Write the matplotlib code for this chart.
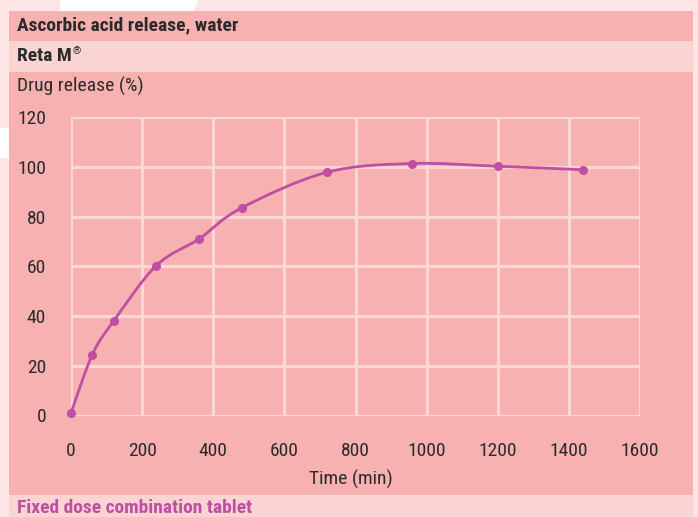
import matplotlib
matplotlib.use("Agg")
import matplotlib.pyplot as plt
from matplotlib import font_manager
from matplotlib.path import Path
from matplotlib.patches import PathPatch, Rectangle, Polygon
import numpy as np

# ---- data ----
time_min = [0, 60, 120, 240, 360, 480, 720, 960, 1200, 1440]
release_pct = [1, 24.5, 38, 60.3, 71, 83.5, 97.8, 101.3, 100.2, 98.8]
x_ticks = [0, 200, 400, 600, 800, 1000, 1200, 1400, 1600]
y_ticks = [0, 20, 40, 60, 80, 100, 120]

title = "Ascorbic acid release, water"
subtitle = "Reta M"
subtitle_mark = "\u00ae"
y_title = "Drug release (%)"
x_title = "Time (min)"
footer = "Fixed dose combination tablet"

# ---- style ----
MAIN = "#f7b1b0"
LIGHT = "#f9d4d2"
OUTER = "#fde6e5"
GRID = "#fbd8d6"
LINE = "#c04fa3"
TEXT = "#2b2b2b"

available = {f.name for f in font_manager.fontManager.ttflist}
narrow = sorted(n for n in available if ("Narrow" in n or "Condensed" in n))
preferred = ["Liberation Sans Narrow", "Roboto Condensed", "Open Sans Condensed",
             "Noto Sans Condensed", "DejaVu Sans Condensed"]
chosen = [n for n in preferred if n in available] + narrow + ["Roboto", "Liberation Sans", "DejaVu Sans"]
FONT = [chosen[0], "DejaVu Sans"]
narrow_ok = chosen[0] not in ("Roboto", "Liberation Sans", "DejaVu Sans")
FS = 14 if narrow_ok else 12.5

W, H = 698, 517
fig = plt.figure(figsize=(W / 100, H / 100), dpi=100)
fig.patch.set_facecolor(OUTER)

def px_rect(x0, y0, x1, y1, color):
    fig.patches.append(Rectangle((x0 / W, 1 - y1 / H), (x1 - x0) / W, (y1 - y0) / H,
                                 transform=fig.transFigure, facecolor=color,
                                 edgecolor="none", zorder=-5))

fig.patches.append(Polygon([(60 / W, 1), (198 / W, 1), (194 / W, 1 - 11 / H), (60 / W, 1 - 11 / H)],
                           closed=True, transform=fig.transFigure, facecolor="white",
                           edgecolor="none", zorder=-5))
px_rect(0, 128, 9, 158, "white")

px_rect(9, 11, 693, 41, MAIN)
px_rect(9, 41, 693, 72, LIGHT)
px_rect(9, 72, 693, 495, MAIN)
px_rect(9, 495, 693, 517, LIGHT)

fig.text(17 / W, 1 - 25 / H, title, fontsize=FS, fontweight="bold", color=TEXT,
         family=FONT, va="center", ha="left")
sub = fig.text(17 / W, 1 - 56 / H, subtitle, fontsize=FS, fontweight="bold", color=TEXT,
               family=FONT, va="center", ha="left")
fig.text(17 / W, 1 - 86 / H, y_title, fontsize=FS, color=TEXT,
         family=FONT, va="center", ha="left")
fig.text(351 / W, 1 - 479 / H, x_title, fontsize=FS, color=TEXT,
         family=FONT, va="center", ha="center")
fig.text(17 / W, 1 - 508 / H, footer, fontsize=FS, fontweight="bold", color=LINE,
         family=FONT, va="center", ha="left")

fig.canvas.draw()
bb = sub.get_window_extent()
fig.text((bb.x1 + 1) / W, 1 - 51 / H, subtitle_mark, fontsize=7.5, color=TEXT,
         family=FONT, va="center", ha="left")

left, right = 71, 640
top, bottom = 117, 415.5
ax = fig.add_axes([left / W, 1 - bottom / H, (right - left) / W, (bottom - top) / H])
ax.set_zorder(5)
ax.set_facecolor("none")
ax.set_xlim(0, 1600)
ax.set_ylim(0, 120)
ax.set_xticks(x_ticks)
ax.set_yticks(y_ticks)
ax.set_xticklabels([str(v) for v in x_ticks], family=FONT, fontsize=FS, color=TEXT)
ax.set_yticklabels([str(v) for v in y_ticks], family=FONT, fontsize=FS, color=TEXT)
ax.tick_params(axis="y", length=0, pad=18)
ax.tick_params(axis="x", length=0, pad=19)
for s in ax.spines.values():
    s.set_visible(False)
ax.grid(True, color=GRID, linewidth=2.2, zorder=1)
ax.set_axisbelow(True)

pts = np.column_stack([time_min, release_pct]).astype(float)
verts = [tuple(pts[0])]
codes = [Path.MOVETO]
n = len(pts)
for i in range(n - 1):
    p0 = pts[i - 1] if i > 0 else pts[i]
    p1 = pts[i]
    p2 = pts[i + 1]
    p3 = pts[i + 2] if i + 2 < n else pts[i + 1]
    c1 = p1 + (p2 - p0) / 6.0
    c2 = p2 - (p3 - p1) / 6.0
    verts += [tuple(c1), tuple(c2), tuple(p2)]
    codes += [Path.CURVE4] * 3
ax.add_patch(PathPatch(Path(verts, codes), facecolor="none", edgecolor=LINE,
                       linewidth=2.0, zorder=3, clip_on=False))
ax.plot(time_min, release_pct, linestyle="none", marker="o", markersize=5.5,
        color=LINE, zorder=4, clip_on=False)

fig.savefig("out.png", dpi=100, facecolor=fig.get_facecolor())
